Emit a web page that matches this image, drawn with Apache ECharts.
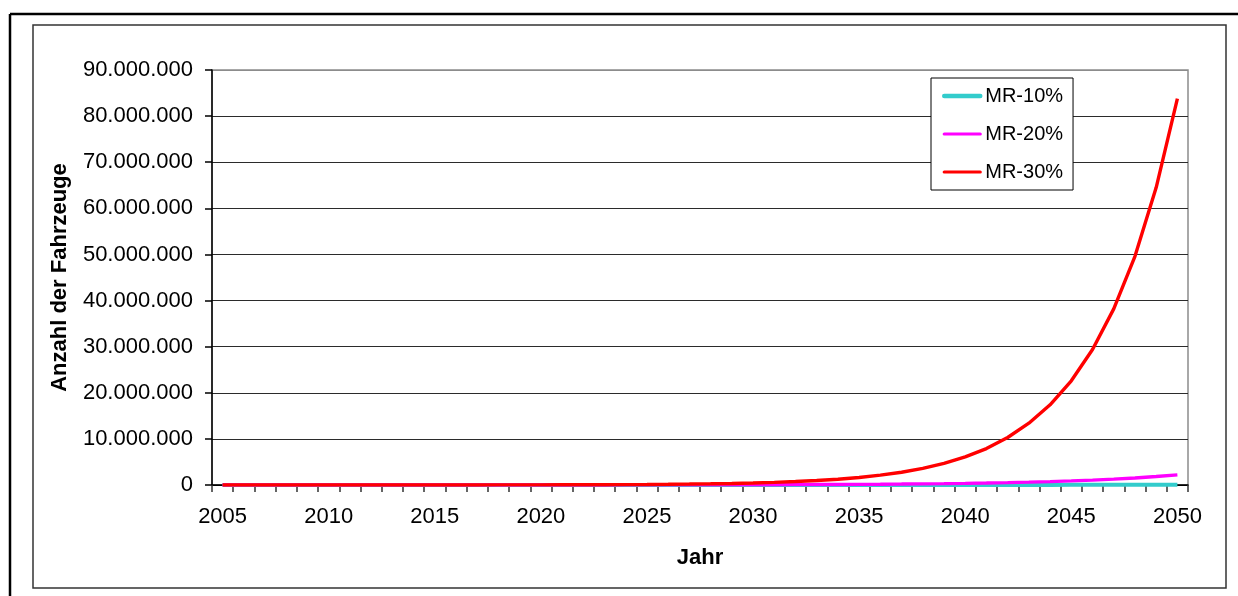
<!DOCTYPE html>
<html>
<head>
<meta charset="utf-8">
<script src="https://cdn.jsdelivr.net/npm/echarts@6/dist/echarts.min.js"></script>
<style>
html,body{margin:0;padding:0;background:#fff;}
#chart{width:1238px;height:596px;}
</style>
</head>
<body>
<div id="chart"></div>
<script>
var years = ['2005','2006','2007','2008','2009','2010','2011','2012','2013','2014','2015','2016','2017','2018','2019','2020','2021','2022','2023','2024','2025','2026','2027','2028','2029','2030','2031','2032','2033','2034','2035','2036','2037','2038','2039','2040','2041','2042','2043','2044','2045','2046','2047','2048','2049','2050'];

var mr10 = [600,660,730,800,880,970,1060,1170,1290,1420,1560,1710,1880,2070,2280,2510,2760,3030,3340,3670,4040,4440,4880,5370,5910,6500,7150,7870,8650,9520,10500,11500,12700,13900,15300,16900,18500,20400,22400,24700,27200,29900,32900,36100,39800,43700];

var mr20 = [600,720,870,1040,1250,1500,1800,2150,2600,3100,3700,4500,5400,6400,7700,9300,11100,13300,16000,19200,23000,28000,33000,40000,48000,57000,69000,83000,99000,119000,143000,171000,206000,247000,296000,356000,427000,512000,614000,737000,885000,1060000,1270000,1530000,1830000,2200000];

var mr30 = [620,810,1050,1370,1800,2300,3000,3900,5100,6600,8600,11200,14600,18900,24600,32000,41600,54000,70000,91000,119000,154000,201000,261000,339000,441000,573000,745000,970000,1260000,1640000,2130000,2770000,3600000,4700000,6100000,7900000,10300000,13400000,17400000,22600000,29400000,38200000,49600000,64500000,83800000];

var seriesNames = ['MR-10%','MR-20%','MR-30%'];

function fmt(v){ return String(v).replace(/\B(?=(\d{3})+(?!\d))/g,'.'); }

var FONT = '"Liberation Sans", Arial, sans-serif';
var chart = echarts.init(document.getElementById('chart'), null, {renderer:'canvas'});

var option = {
  animation:false,
  backgroundColor:'#fff',
  textStyle:{fontFamily:FONT},
  grid:{left:212, top:70, right:50, bottom:111, show:true, borderColor:'#8c8c8c', borderWidth:1.5, backgroundColor:'#fff'},
  legend:{
    orient:'vertical', left:931, top:78,
    backgroundColor:'#fff', borderColor:'#000', borderWidth:1,
    padding:[8,10,8,11],
    itemWidth:36, itemHeight:20, itemGap:18,
    itemStyle:{opacity:0},
    textStyle:{fontFamily:FONT, fontSize:20, color:'#000'},
    data:[
      {name:seriesNames[0], lineStyle:{width:4.5, color:'#33CCCC', cap:'round'}},
      {name:seriesNames[1], lineStyle:{width:3.2, color:'#FF00FF', cap:'round'}},
      {name:seriesNames[2], lineStyle:{width:3.2, color:'#FF0000', cap:'round'}}
    ]
  },
  xAxis:{
    type:'category', data:years, boundaryGap:true,
    name:'Jahr', nameLocation:'middle', nameGap:62,
    nameTextStyle:{fontFamily:FONT, fontSize:22, fontWeight:'bold', color:'#000'},
    axisLine:{lineStyle:{color:'#000', width:1.5}},
    axisTick:{show:true, interval:0, length:7, lineStyle:{color:'#333', width:1.5}},
    axisLabel:{interval:4, margin:21, fontFamily:FONT, fontSize:22, color:'#000'},
    splitLine:{show:false}
  },
  yAxis:{
    type:'value', min:0, max:90000000, interval:10000000,
    name:'Anzahl der Fahrzeuge', nameLocation:'middle', nameGap:141,
    nameTextStyle:{fontFamily:FONT, fontSize:22, fontWeight:'bold', color:'#000'},
    axisLine:{show:true, lineStyle:{color:'#000', width:1.5}},
    axisTick:{show:true, length:7, lineStyle:{color:'#000', width:1.5}},
    axisLabel:{margin:19, fontFamily:FONT, fontSize:22, color:'#000', formatter:function(v){return fmt(v);}},
    splitLine:{show:true, lineStyle:{color:['#000','#2b2b2b','#2b2b2b','#2b2b2b','#2b2b2b','#2b2b2b','#2b2b2b','#2b2b2b','#2b2b2b','#8c8c8c'], width:1.2}}
  },
  series:[
    {name:seriesNames[0], type:'line', data:mr10, symbol:'none', smooth:false, lineStyle:{color:'#33CCCC', width:4}, itemStyle:{color:'#33CCCC'}},
    {name:seriesNames[1], type:'line', data:mr20, symbol:'none', smooth:false, lineStyle:{color:'#FF00FF', width:3.4}, itemStyle:{color:'#FF00FF'}},
    {name:seriesNames[2], type:'line', data:mr30, symbol:'none', smooth:false, lineStyle:{color:'#FF0000', width:3.4}, itemStyle:{color:'#FF0000'}}
  ],
  graphic:[
    {type:'line', silent:true, shape:{x1:10, y1:14, x2:1238, y2:14}, style:{stroke:'#000', lineWidth:2.5}},
    {type:'line', silent:true, shape:{x1:10, y1:14, x2:10, y2:596}, style:{stroke:'#000', lineWidth:2.5}},
    {type:'rect', silent:true, z:-1, shape:{x:33, y:25, width:1193, height:563}, style:{fill:null, stroke:'#333', lineWidth:1.5}}
  ]
};
chart.setOption(option);
</script>
</body>
</html>
